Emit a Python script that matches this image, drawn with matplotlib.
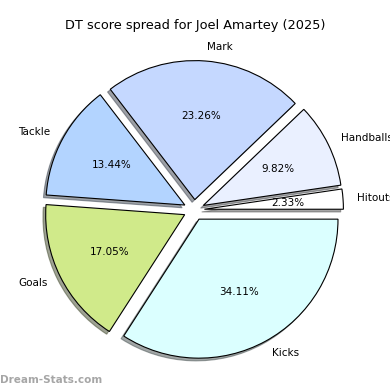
import matplotlib
matplotlib.use("Agg")
import matplotlib.pyplot as plt

# DT score share by stat (percent)
labels = ["Hitouts", "Handballs", "Mark", "Tackle", "Goals", "Kicks"]
shares = [2.33, 9.82, 23.26, 13.44, 17.05, 34.11]
colors = ["#ffffff", "#eaf0ff", "#c5d8ff", "#b3d4ff", "#d0ea8a", "#dbffff"]

fig = plt.figure(figsize=(3.9, 3.9), dpi=100)
ax = fig.add_axes([0, 0, 1, 1])

wedges, texts, autotexts = ax.pie(
    shares,
    labels=labels,
    colors=colors,
    explode=[0.075] * len(shares),
    autopct="%.2f%%",
    shadow={"ox": -0.014, "oy": -0.014},
    startangle=0,
    wedgeprops={"edgecolor": "black", "linewidth": 0.8},
    textprops={"fontsize": 7.5},
)

# pie centre sits at (194, 210) px, radius ~139 px
scale = 139.0
cx, cy = 194, 210
ax.set_xlim(-cx / scale, (390 - cx) / scale)
ax.set_ylim(-(390 - cy) / scale, cy / scale)
ax.set_aspect("equal")
ax.axis("off")

fig.text(0.5, 1 - 25 / 390, "DT score spread for Joel Amartey (2025)",
         ha="center", va="center", fontsize=9.3)
fig.text(0.0, 1 - 380 / 390, "Dream-Stats.com", ha="left", va="center",
         fontsize=7.5, fontweight="bold", color="#a6a6a6")

fig.savefig("out.png", dpi=100)
